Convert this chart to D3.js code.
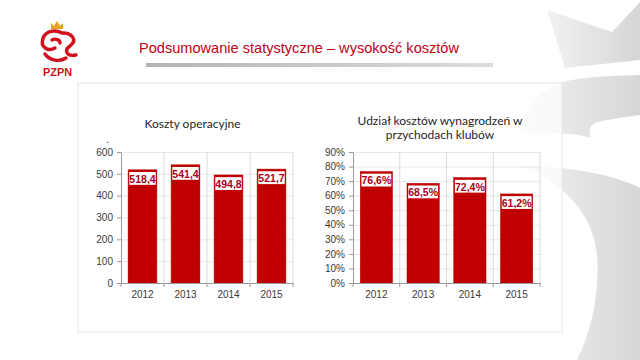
<!DOCTYPE html>
<html><head><meta charset="utf-8">
<script src="https://cdnjs.cloudflare.com/ajax/libs/d3/7.8.5/d3.min.js"></script>
<style>html,body{margin:0;padding:0;background:#fff;}svg{display:block;}</style>
</head><body>
<script>
// ---- data ----
const years = ["2012", "2013", "2014", "2015"];
const operatingCosts = [518.4, 541.4, 494.8, 521.7];
const wageShare = [76.6, 68.5, 72.4, 61.2];
const costTicks = [0, 100, 200, 300, 400, 500, 600];
const shareTicks = [0, 10, 20, 30, 40, 50, 60, 70, 80, 90];
const pageTitle = "Podsumowanie statystyczne – wysokość kosztów";
const leftTitle = ["Koszty operacyjne"];
const rightTitle = ["Udział kosztów wynagrodzeń w", "przychodach klubów"];

const W = 640, H = 360;
const svg = d3.select("body").append("svg").attr("width", W).attr("height", H);
const defs = svg.append("defs");
const g1 = defs.append("linearGradient").attr("id", "gray").attr("x1", 0).attr("x2", 1).attr("y1", 0).attr("y2", 0);
g1.append("stop").attr("offset", "0%").attr("stop-color", "#f2f2f2");
g1.append("stop").attr("offset", "100%").attr("stop-color", "#d6d6d6");
const g2 = defs.append("linearGradient").attr("id", "sep").attr("x1", 0).attr("x2", 1);
g2.append("stop").attr("offset", "0%").attr("stop-color", "#b4b4b4");
g2.append("stop").attr("offset", "100%").attr("stop-color", "#dcdcdc");

// background decoration
const deco = svg.append("g").attr("fill", "url(#gray)");
deco.append("path").attr("d", "M547,10 L612,32 L640,2 L640,60 L565,68 Z");
deco.append("path").attr("d", "M540,95 C555,80 575,77 640,75 L640,115 C620,118 602,120 595,123 C588,127 589,133 591,138 C575,132 545,133 520,134 C524,116 531,103 540,95 Z");
deco.append("path").attr("d", "M520,166 C570,166 615,175 640,188 L640,360 L577,360 C592,330 600,290 597,255 C594,220 570,185 520,166 Z");

// panel
svg.append("rect").attr("x", 78).attr("y", 83).attr("width", 484).attr("height", 249)
  .attr("fill", "#fff").attr("fill-opacity", 0.72).attr("stroke", "#e6e6e6").attr("stroke-width", 1);

// logo
const logo = svg.append("g");
logo.append("polygon").attr("points", "51,29 51,23 54,26 57,21 60,26 63,23 63,29").attr("fill", "#e6a417");
const lp = logo.append("g").attr("fill", "none").attr("stroke", "#d0101c").attr("stroke-width", 3.4).attr("stroke-linecap", "round");
lp.append("path").attr("d", "M62,33 C55,29 46,31 43,38");
lp.append("path").attr("d", "M43,39 C40,47 48,52 55,48");
lp.append("path").attr("d", "M63,33 C72,33 77,40 71,45");
lp.append("path").attr("d", "M70,46 C64,50 66,57 76,55");
lp.append("path").attr("d", "M45,54 C50,61 60,62 66,58");
lp.append("path").attr("d", "M52,40 C56,38 60,40 60,43");
logo.append("text").attr("x", 57.5).attr("y", 76).attr("text-anchor", "middle")
  .attr("font-family", "Liberation Sans, Arial, sans-serif").attr("font-weight", "bold").attr("font-size", 11)
  .attr("fill", "#d0101c").attr("textLength", 29).attr("lengthAdjust", "spacingAndGlyphs").text("PZPN");

// page title
svg.append("text").attr("x", 139).attr("y", 53).attr("font-family", "Liberation Sans, Arial, sans-serif")
  .attr("font-size", 15).attr("fill", "#c00018").attr("textLength", 320).attr("lengthAdjust", "spacingAndGlyphs")
  .text(pageTitle);
svg.append("rect").attr("x", 146).attr("y", 63).attr("width", 347).attr("height", 4).attr("fill", "url(#sep)");

function drawChart(cfg) {
  const g = svg.append("g");
  const x = d3.scaleBand().domain(years).range(cfg.xr).paddingInner(cfg.pad).paddingOuter(cfg.pad / 2);
  const y = d3.scaleLinear().domain(cfg.domain).range([283, 152]);
  const [x0, x1] = cfg.xr;
  // horizontal gridlines
  g.append("g").attr("transform", `translate(${x0},0)`)
    .call(d3.axisLeft(y).tickValues(cfg.ticks).tickSize(-(x1 - x0)).tickFormat(""))
    .call(a => a.select(".domain").remove())
    .call(a => a.selectAll("line").attr("stroke", "#e8e8e8"));
  // vertical gridlines at category boundaries
  const bounds = d3.range(years.length + 1).map(i => x0 + i * x.step());
  g.selectAll(".vg").data(bounds.slice(1)).join("line")
    .attr("x1", d => d).attr("x2", d => d).attr("y1", 152).attr("y2", 283)
    .attr("stroke", "#dadada");
  // bars
  g.selectAll(".bar").data(cfg.values).join("rect")
    .attr("x", (d, i) => x(years[i])).attr("width", x.bandwidth())
    .attr("y", d => y(d)).attr("height", d => 283 - y(d))
    .attr("fill", "#c00000").attr("stroke", "#b00000").attr("stroke-width", 0.5);
  // label boxes
  g.selectAll(".lb").data(cfg.values).join("rect")
    .attr("x", (d, i) => x(years[i]) + 1.2).attr("width", x.bandwidth() - 2.4)
    .attr("y", d => y(d) + 2.2).attr("height", 12.8).attr("fill", "#fff");
  g.selectAll(".lt").data(cfg.values).join("text")
    .attr("x", (d, i) => x(years[i]) + x.bandwidth() / 2).attr("y", d => y(d) + 12.9)
    .attr("text-anchor", "middle").attr("font-family", "Liberation Sans, Arial, sans-serif")
    .attr("font-weight", "bold").attr("font-size", 10.5).attr("fill", "#a8001c")
    .text(d => cfg.fmt(d));
  // y axis
  const ya = g.append("g").attr("transform", `translate(${x0},0)`)
    .call(d3.axisLeft(y).tickValues(cfg.ticks).tickSize(4).tickPadding(4).tickFormat(cfg.tickFmt));
  ya.select(".domain").attr("stroke", "#9a9a9a");
  ya.selectAll("line").attr("stroke", "#9a9a9a");
  ya.selectAll("text").attr("font-family", "Liberation Sans, Arial, sans-serif").attr("font-size", 10).attr("fill", "#3a3a3a");
  // x axis
  const xa = g.append("g").attr("transform", "translate(0,283)")
    .call(d3.axisBottom(x).tickSize(0).tickPadding(8));
  xa.select(".domain").attr("stroke", "#9a9a9a");
  xa.selectAll("text").attr("font-family", "Liberation Sans, Arial, sans-serif").attr("font-size", 10).attr("fill", "#3a3a3a");
  g.selectAll(".xt").data(bounds).join("line")
    .attr("x1", d => d).attr("x2", d => d).attr("y1", 283).attr("y2", 287).attr("stroke", "#9a9a9a");
  // title
  const t = g.append("text").attr("text-anchor", "middle").attr("font-family", "Lato, sans-serif")
    .attr("font-size", 12).attr("fill", "#262626");
  cfg.title.forEach((line, i) => t.append("tspan").attr("x", cfg.tx).attr("y", cfg.ty + i * 14).text(line));
}

drawChart({ xr: [121, 293], pad: 0.33, domain: [0, 600], ticks: costTicks, values: operatingCosts,
  fmt: d => d3.format(".1f")(d).replace(".", ","), tickFmt: d => d,
  title: leftTitle, tx: 192.5, ty: 128 });
drawChart({ xr: [353, 540], pad: 0.31, domain: [0, 90], ticks: shareTicks, values: wageShare,
  fmt: d => d3.format(".1f")(d).replace(".", ",") + "%", tickFmt: d => d + "%",
  title: rightTitle, tx: 440, ty: 125 });

svg.append("text").attr("x", 106).attr("y", 143).attr("font-family", "Liberation Sans, Arial, sans-serif")
  .attr("font-size", 10).attr("fill", "#333").text(".");
</script>
</body></html>
